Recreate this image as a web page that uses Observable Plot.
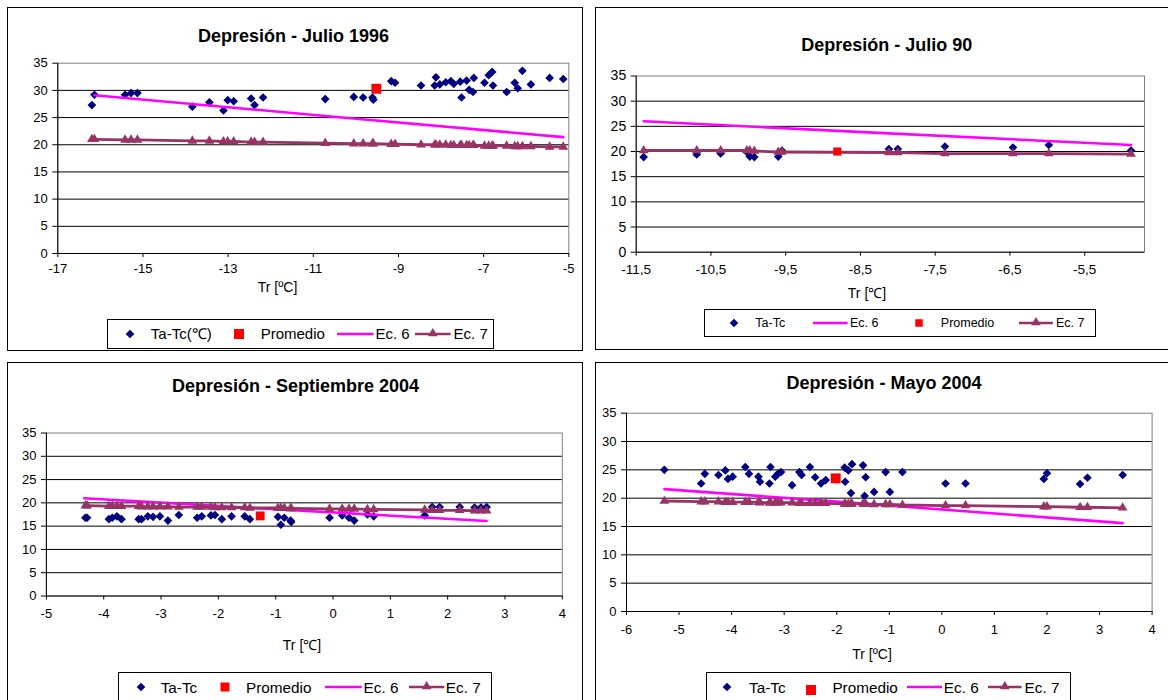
<!DOCTYPE html>
<html><head><meta charset="utf-8">
<script src="https://cdn.jsdelivr.net/npm/d3@7"></script>
<script src="https://cdn.jsdelivr.net/npm/@observablehq/plot@0.6"></script>
<style>
body{margin:0;background:#fff;}
#root{position:relative;width:1168px;height:700px;overflow:hidden;background:#fff;font-family:"Liberation Sans",Arial,sans-serif;color:#000;}
.panel{position:absolute;border:1px solid #000;box-sizing:border-box;}
.txt{position:absolute;white-space:nowrap;}
.lgbox{position:absolute;border:1px solid #000;box-sizing:border-box;background:#fff;}
</style></head><body><div id="root"></div>
<script>
// ---------- DATA ----------
const yTicks = [0, 5, 10, 15, 20, 25, 30, 35];

// Panel 1: Depresión - Julio 1996
const xTicks1 = [-17, -15, -13, -11, -9, -7, -5];
const tr1 = [-16.20, -16.14, -15.42, -15.28, -15.13, -13.84, -13.44, -13.11, -13.01, -12.87, -12.46, -12.38, -12.18, -10.72, -10.05, -9.83, -9.61, -9.59, -9.17, -9.08, -8.47, -8.15, -8.12, -8.03, -7.89, -7.77, -7.70, -7.55, -7.52, -7.40, -7.34, -7.25, -7.23, -6.98, -6.88, -6.80, -6.78, -6.46, -6.27, -6.20, -6.09, -5.89, -5.45, -5.13];
const ta1 = [27.3, 29.2, 29.2, 29.5, 29.5, 27.0, 27.8, 26.3, 28.2, 28.0, 28.5, 27.3, 28.7, 28.4, 28.8, 28.7, 28.7, 28.3, 31.7, 31.4, 30.9, 30.9, 32.4, 31.1, 31.5, 31.7, 31.2, 31.6, 28.7, 31.8, 30.1, 29.7, 32.3, 31.4, 32.8, 33.4, 30.9, 29.7, 31.4, 30.4, 33.6, 31.1, 32.3, 32.1];
const ec7_1 = [21.0, 21.0, 20.9, 20.9, 20.9, 20.7, 20.7, 20.6, 20.6, 20.6, 20.5, 20.5, 20.5, 20.3, 20.2, 20.2, 20.2, 20.2, 20.1, 20.1, 20.0, 20.0, 20.0, 20.0, 20.0, 19.9, 19.9, 19.9, 19.9, 19.9, 19.9, 19.9, 19.9, 19.8, 19.8, 19.8, 19.8, 19.8, 19.7, 19.7, 19.7, 19.7, 19.6, 19.6];
const ec6x1 = [-16.14, -10.72, -5.13];
const ec6y1 = [29.1, 25.3, 21.4];
const prom1 = [-9.52, 30.3];
const legend1 = ["Ta-Tc(℃)", "Promedio", "Ec. 6", "Ec. 7"];

// Panel 2: Depresión - Julio 90
const xTicks2 = [-11.5, -10.5, -9.5, -8.5, -7.5, -6.5, -5.5];
const tr2 = [-11.40, -10.69, -10.37, -10.02, -9.98, -9.92, -9.60, -9.55, -8.12, -8.00, -7.37, -6.46, -5.98, -4.88];
const ta2 = [18.9, 19.4, 19.6, 19.9, 19.0, 18.9, 19.0, 20.2, 20.5, 20.5, 21.0, 20.8, 21.3, 20.2];
const ec7_2 = [20.2, 20.2, 20.2, 20.2, 20.2, 20.1, 19.9, 19.9, 19.8, 19.8, 19.6, 19.6, 19.6, 19.5];
const ec6x2 = [-11.40, -8.12, -4.88];
const ec6y2 = [26.0, 23.6, 21.3];
const prom2 = [-8.81, 20.0];
const legend2 = ["Ta-Tc", "Ec. 6", "Promedio", "Ec. 7"];

// Panel 3: Depresión - Septiembre 2004
const xTicks3 = [-5, -4, -3, -2, -1, 0, 1, 2, 3, 4];
const tr3 = [-4.32, -4.29, -3.91, -3.85, -3.77, -3.69, -3.39, -3.34, -3.23, -3.14, -3.02, -2.88, -2.69, -2.37, -2.29, -2.13, -2.06, -1.94, -1.77, -1.54, -1.45, -0.96, -0.91, -0.85, -0.74, -0.73, -0.06, 0.16, 0.28, 0.37, 0.60, 0.71, 1.60, 1.73, 1.86, 2.21, 2.47, 2.58, 2.68];
const ta3 = [16.8, 16.8, 16.5, 16.8, 17.1, 16.5, 16.5, 16.5, 17.1, 17.0, 17.1, 16.2, 17.4, 16.8, 17.1, 17.3, 17.4, 16.5, 17.1, 17.1, 16.5, 17.0, 15.3, 16.8, 16.2, 15.9, 16.8, 17.3, 16.8, 16.2, 17.5, 17.1, 17.3, 19.1, 19.1, 19.1, 19.0, 19.0, 19.1];
const ec7_3 = [19.4, 19.4, 19.3, 19.3, 19.3, 19.3, 19.3, 19.2, 19.2, 19.2, 19.2, 19.2, 19.1, 19.1, 19.1, 19.1, 19.0, 19.0, 19.0, 19.0, 18.9, 18.9, 18.9, 18.9, 18.8, 18.8, 18.7, 18.7, 18.7, 18.7, 18.6, 18.6, 18.5, 18.4, 18.4, 18.4, 18.3, 18.3, 18.3];
const ec6x3 = [-4.34, -1.25, 2.68];
const ec6y3 = [21.0, 18.8, 16.1];
const prom3 = [-1.27, 17.2];
const legend3 = ["Ta-Tc", "Promedio", "Ec. 6", "Ec. 7"];

// Panel 4: Depresión - Mayo 2004
const xTicks4 = [-6, -5, -4, -3, -2, -1, 0, 1, 2, 3, 4];
const tr4 = [-5.28, -4.58, -4.51, -4.25, -4.12, -4.07, -3.98, -3.74, -3.67, -3.49, -3.46, -3.28, -3.26, -3.17, -3.12, -3.06, -2.85, -2.71, -2.67, -2.51, -2.41, -2.30, -2.21, -1.85, -1.84, -1.78, -1.73, -1.71, -1.50, -1.47, -1.45, -1.29, -1.07, -0.99, -0.75, 0.07, 0.45, 1.94, 2.00, 2.63, 2.77, 3.44];
const ta4 = [25.0, 22.6, 24.3, 24.1, 24.9, 23.4, 23.8, 25.5, 24.3, 23.8, 22.9, 22.6, 25.5, 23.8, 24.3, 24.6, 22.3, 24.6, 24.1, 25.5, 23.7, 22.6, 23.2, 25.4, 22.9, 24.9, 20.9, 26.0, 25.8, 20.4, 23.7, 21.1, 24.6, 21.1, 24.6, 22.6, 22.6, 23.4, 24.4, 22.5, 23.6, 24.1];
const ec7_4 = [19.5, 19.4, 19.4, 19.4, 19.3, 19.3, 19.3, 19.3, 19.3, 19.3, 19.2, 19.2, 19.2, 19.2, 19.2, 19.2, 19.2, 19.1, 19.1, 19.1, 19.1, 19.1, 19.1, 19.0, 19.0, 19.0, 19.0, 19.0, 19.0, 19.0, 19.0, 18.9, 18.9, 18.9, 18.8, 18.7, 18.7, 18.5, 18.5, 18.4, 18.4, 18.3];
const ec6x4 = [-5.28, -2.0, 3.44];
const ec6y4 = [21.6, 19.4, 15.6];
const prom4 = [-2.02, 23.5];
const legend4 = ["Ta-Tc", "Promedio", "Ec. 6", "Ec. 7"];

// ---------- STYLE ----------
const C = {ta: "#000080", prom: "#FF0000", ec6: "#FF00FF", ec7: "#993366"};
const FONT = '"Liberation Sans", Arial, sans-serif';
const R_DIAMOND = 3.9, R_TRI = 3.6;
const root = document.getElementById("root");

function text(str, opts) {
  const d = document.createElement("div");
  d.className = "txt";
  d.textContent = str;
  const lh = Math.round(opts.fs * 1.25);
  d.style.fontSize = opts.fs + "px";
  d.style.lineHeight = lh + "px";
  d.style.top = (opts.cy - lh / 2) + "px";
  if (opts.bold) d.style.fontWeight = "bold";
  if (opts.cx !== undefined) {
    d.style.left = (opts.cx - 300) + "px";
    d.style.width = "600px";
    d.style.textAlign = "center";
  } else {
    d.style.left = opts.x + "px";
  }
  root.appendChild(d);
}

function swatch(kind, o) {
  const ns = "http://www.w3.org/2000/svg";
  const s = document.createElementNS(ns, "svg");
  const w = kind === "line" || kind === "tri" ? (o.x2 - o.x1) : 14;
  const h = 14;
  s.setAttribute("width", w); s.setAttribute("height", h);
  s.style.position = "absolute";
  s.style.left = (kind === "line" || kind === "tri" ? o.x1 : o.cx - 7) + "px";
  s.style.top = (o.cy - 7) + "px";
  s.style.overflow = "visible";
  if (kind === "diamond") {
    const p = document.createElementNS(ns, "path");
    p.setAttribute("d", d3.symbol(d3.symbolDiamond2, Math.PI * R_DIAMOND * R_DIAMOND)());
    p.setAttribute("transform", "translate(7,7)");
    p.setAttribute("fill", C.ta);
    s.appendChild(p);
  } else if (kind === "square") {
    const r = document.createElementNS(ns, "rect");
    r.setAttribute("x", 7 - o.size / 2); r.setAttribute("y", 7 - o.size / 2 + (o.dy || 0));
    r.setAttribute("width", o.size); r.setAttribute("height", o.size);
    r.setAttribute("fill", C.prom);
    s.appendChild(r);
  } else {
    const l = document.createElementNS(ns, "line");
    l.setAttribute("x1", 0); l.setAttribute("x2", w);
    l.setAttribute("y1", 7); l.setAttribute("y2", 7);
    l.setAttribute("stroke", kind === "line" ? C.ec6 : C.ec7);
    l.setAttribute("stroke-width", 2.6);
    s.appendChild(l);
    if (kind === "tri") {
      const p = document.createElementNS(ns, "path");
      p.setAttribute("d", d3.symbol(d3.symbolTriangle, Math.PI * R_TRI * R_TRI)());
      p.setAttribute("transform", `translate(${w / 2},6.5)`);
      p.setAttribute("fill", C.ec7);
      s.appendChild(p);
    }
  }
  root.appendChild(s);
}

function panel(c) {
  const b = document.createElement("div");
  b.className = "panel";
  Object.assign(b.style, {left: c.border[0] + "px", top: c.border[1] + "px", width: c.border[2] + "px", height: c.border[3] + "px"});
  root.appendChild(b);

  const [bx, by] = c.border;
  const W = c.W, H = c.H;
  const mL = c.plot[0] - bx, mT = c.plot[1] - by, mR = bx + W - c.plot[2], mB = by + H - c.plot[3];
  const pts = c.tr.map((x, i) => ({x, ta: c.ta[i], e7: c.ec7[i]}));
  const e6 = c.ec6x.map((x, i) => ({x, y: c.ec6y[i]}));
  const svg = Plot.plot({
    width: W, height: H,
    marginLeft: mL, marginRight: mR, marginTop: mT, marginBottom: mB,
    style: {fontFamily: FONT, fontSize: c.tickFs + "px", color: "#000", background: "transparent", overflow: "visible"},
    x: {domain: c.xDomain, label: null},
    y: {domain: [0, 35], label: null},
    marks: [
      Plot.frame({stroke: "#808080"}),
      Plot.ruleY(yTicks.filter(v => v > 0 && v < 35), {stroke: "#000", strokeWidth: 1}),
      Plot.ruleX([c.xDomain[0]], {stroke: "#000"}),
      Plot.ruleY([0], {stroke: "#000"}),
      Plot.axisY(yTicks, {tickSize: 5, tickPadding: c.yPad, fontSize: c.yFs, stroke: "#000"}),
      Plot.axisX(c.xTicks, {tickSize: 4, tickPadding: c.xPad, fontSize: c.tickFs, tickFormat: d => String(d).replace(".", ","), stroke: "#000"}),
      Plot.dot(pts, {x: "x", y: "ta", symbol: "diamond2", r: R_DIAMOND, fill: C.ta, stroke: "none"}),
      Plot.line(e6, {x: "x", y: "y", stroke: C.ec6, strokeWidth: 2.6}),
      Plot.line(pts, {x: "x", y: "e7", stroke: C.ec7, strokeWidth: 2.8}),
      Plot.dot(pts, {x: "x", y: "e7", symbol: "triangle", r: R_TRI, fill: C.ec7, stroke: "none"}),
      Plot.dot([c.prom], {x: d => d[0], y: d => d[1], symbol: "square", r: c.promR, fill: C.prom, stroke: "none"})
    ]
  });
  svg.style.position = "absolute";
  svg.style.left = bx + "px";
  svg.style.top = by + "px";
  root.appendChild(svg);

  text(c.title, {cx: c.titlePos[0], cy: c.titlePos[1], fs: 18, bold: true});
  text(c.xlabel, {cx: c.xlabelPos[0], cy: c.xlabelPos[1], fs: 14});

  const L = c.legend;
  const lb = document.createElement("div");
  lb.className = "lgbox";
  Object.assign(lb.style, {left: L.box[0] + "px", top: L.box[1] + "px", width: L.box[2] + "px", height: L.box[3] + "px"});
  root.appendChild(lb);
  L.items.forEach((it, i) => {
    swatch(it.kind, Object.assign({cy: L.cy}, it));
    text(c.labels[i], {x: it.tx, cy: L.cy, fs: L.fs});
  });
}

panel({
  border: [7, 7, 576, 344], W: 575, H: 290,
  plot: [57.3, 62.7, 568.3, 253],
  xDomain: [-17, -5], xTicks: xTicks1, tickFs: 13, yFs: 13, xPad: 6, yPad: 5,
  tr: tr1, ta: ta1, ec7: ec7_1, ec6x: ec6x1, ec6y: ec6y1, prom: prom1, promR: 5.6,
  title: "Depresión - Julio 1996", titlePos: [293.5, 36],
  xlabel: "Tr [ºC]", xlabelPos: [277.5, 287],
  labels: legend1,
  legend: {box: [107, 319, 387, 30], cy: 333.5, fs: 15, items: [
    {kind: "diamond", cx: 129.6, tx: 150.8},
    {kind: "square", cx: 238.7, size: 10, tx: 260.7},
    {kind: "line", x1: 337, x2: 373.6, tx: 375.4},
    {kind: "tri", x1: 415, x2: 450.6, tx: 453.6}
  ]}
});

panel({
  border: [595, 7, 600, 343], W: 573, H: 290,
  plot: [635.7, 75.5, 1144, 251.7],
  xDomain: [-11.5, -4.7], xTicks: xTicks2, tickFs: 13.5, yFs: 14, xPad: 8, yPad: 5,
  tr: tr2, ta: ta2, ec7: ec7_2, ec6x: ec6x2, ec6y: ec6y2, prom: prom2, promR: 4.6,
  title: "Depresión - Julio 90", titlePos: [886.7, 45],
  xlabel: "Tr [℃]", xlabelPos: [867, 293],
  labels: legend2,
  legend: {box: [704.3, 309, 391.5, 28], cy: 322.5, fs: 12.5, items: [
    {kind: "diamond", cx: 733.7, tx: 755.3},
    {kind: "line", x1: 812.7, x2: 847.3, tx: 850},
    {kind: "square", cx: 919, size: 7.5, tx: 940.8},
    {kind: "tri", x1: 1018.6, x2: 1052.5, tx: 1056}
  ]}
});

panel({
  border: [7, 362, 576, 400], W: 575, H: 280,
  plot: [45.9, 432.5, 561.8, 595.5],
  xDomain: [-5, 4], xTicks: xTicks3, tickFs: 13, yFs: 13, xPad: 9, yPad: 5,
  tr: tr3, ta: ta3, ec7: ec7_3, ec6x: ec6x3, ec6y: ec6y3, prom: prom3, promR: 5.0,
  title: "Depresión - Septiembre 2004", titlePos: [295.5, 386],
  xlabel: "Tr [℃]", xlabelPos: [302, 645],
  labels: legend3,
  legend: {box: [117.5, 672, 374, 40], cy: 687, fs: 15.3, items: [
    {kind: "diamond", cx: 140.8, tx: 160.7},
    {kind: "square", cx: 225, size: 9, tx: 246},
    {kind: "line", x1: 325, x2: 361.7, tx: 363.6},
    {kind: "tri", x1: 408.7, x2: 444, tx: 445.8}
  ]}
});

panel({
  border: [595, 362, 600, 400], W: 573, H: 290,
  plot: [626, 412.7, 1151.6, 611],
  xDomain: [-6, 4], xTicks: xTicks4, tickFs: 13, yFs: 13, xPad: 9, yPad: 5,
  tr: tr4, ta: ta4, ec7: ec7_4, ec6x: ec6x4, ec6y: ec6y4, prom: prom4, promR: 5.6,
  title: "Depresión - Mayo 2004", titlePos: [884, 383],
  xlabel: "Tr [ºC]", xlabelPos: [872, 654],
  labels: legend4,
  legend: {box: [706, 672, 364.5, 40], cy: 687, fs: 15.3, items: [
    {kind: "diamond", cx: 727.4, tx: 749},
    {kind: "square", cx: 811.2, size: 10, dy: 3, tx: 832.4},
    {kind: "line", x1: 906.5, x2: 941.5, tx: 943.8},
    {kind: "tri", x1: 988, x2: 1021.6, tx: 1024.6}
  ]}
});
</script>
</body></html>
